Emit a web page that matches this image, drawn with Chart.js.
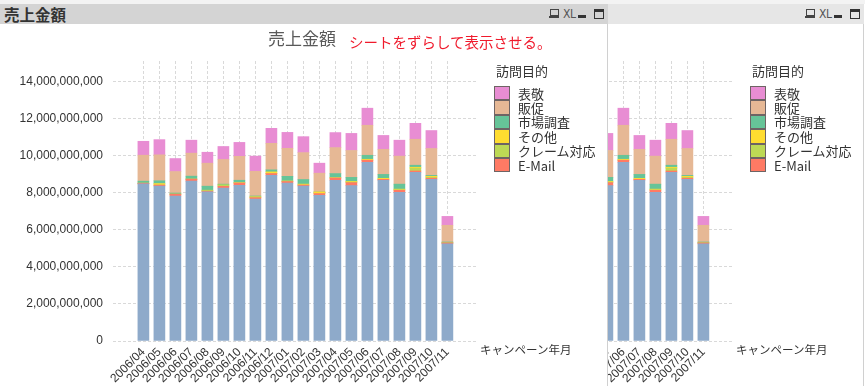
<!DOCTYPE html>
<html><head><meta charset="utf-8">
<script src="https://cdn.jsdelivr.net/npm/chart.js@4.4.0/dist/chart.umd.min.js"></script>
<style>
html,body{margin:0;padding:0;background:#fff;width:865px;height:386px;overflow:hidden;font-family:"Liberation Sans",Arial,sans-serif;}
#topstrip{position:absolute;left:0;top:0;width:865px;height:4px;background:#f3f3f3;}
.panel{position:absolute;top:4px;width:608px;height:382px;background:#fff;overflow:hidden;}
.tbar{position:absolute;left:0;top:0;width:608px;height:20px;}
.rline{position:absolute;left:607px;top:20px;width:1px;height:362px;background:#d0d0d0;}
.ptitle{position:absolute;left:4px;top:0px;font:bold 15.5px "Noto Sans CJK JP";color:#333;line-height:20px;}
.abs{position:absolute;}
.ctitle{position:absolute;left:268px;top:22px;font:17px "Noto Sans CJK JP";color:#595959;line-height:24px;white-space:nowrap;}
.red{position:absolute;left:349px;top:27px;font:14.5px "Noto Sans CJK JP";color:#f01a2c;line-height:22px;white-space:nowrap;z-index:5;}
.ltitle{position:absolute;left:496px;top:58px;font:13px "Noto Sans CJK JP";color:#333;line-height:18px;white-space:nowrap;}
.lbox{position:absolute;left:494px;width:14px;border:1px solid #6e6464;box-sizing:content-box;}
.ltext{position:absolute;left:518px;font:13px "Noto Sans CJK JP";color:#333;line-height:14px;white-space:nowrap;}
.xtitle{position:absolute;left:480px;top:337px;font:11.5px "Noto Sans CJK JP";color:#333;line-height:16px;white-space:nowrap;}
canvas{position:absolute;left:0;top:20px;}
</style>
</head><body>
<div id="topstrip"></div>
<div class="panel" id="pRight" style="left:256px;z-index:1;"></div>
<div class="panel" id="pLeft" style="left:0px;z-index:2;"></div>
<script>
// ---- data (values in units of 1,000,000,000 yen) ----
const categories = ['2006/04','2006/05','2006/06','2006/07','2006/08','2006/09','2006/10','2006/11','2006/12','2007/01','2007/02','2007/03','2007/04','2007/05','2007/06','2007/07','2007/08','2007/09','2007/10','2007/11'];
const baseVisit = [8.47,8.36,7.82,8.62,8.04,8.25,8.40,7.66,8.94,8.51,8.36,7.85,8.67,8.38,9.64,8.67,8.02,9.10,8.72,5.24];
const eMail     = [0.04,0.05,0.10,0.11,0.04,0.09,0.12,0.07,0.09,0.09,0.05,0.10,0.12,0.16,0.11,0.05,0.11,0.07,0.06,0.05];
const claim     = [0,0,0,0,0.05,0.07,0,0,0,0,0,0,0,0.04,0,0,0.03,0.15,0.05,0];
const other     = [0,0.08,0,0,0,0,0.02,0.05,0.09,0.03,0.05,0.09,0.02,0.03,0.05,0.05,0.03,0.05,0.05,0];
const research  = [0.11,0.15,0.06,0.16,0.22,0.05,0.13,0.04,0.11,0.25,0.25,0,0.22,0.215,0.215,0.215,0.27,0.11,0.05,0.05];
const promo     = [1.40,1.40,1.16,1.24,1.24,1.33,1.29,1.33,1.43,1.51,1.45,1.01,1.40,1.45,1.62,1.35,1.51,1.40,1.45,0.90];
const courtesy  = [0.75,0.82,0.70,0.70,0.59,0.70,0.75,0.82,0.81,0.86,0.86,0.54,0.81,0.92,0.92,0.75,0.86,0.86,0.97,0.48];
const UNIT = 1e9;
const yTicks = [0,2,4,6,8,10,12,14];   // tick labels in units of UNIT
const yMax = 15.1;

// stack order bottom -> top
const seriesDefs = [
  {label:'営業訪問',     data:baseVisit, color:'#8eaaca', legend:false},
  {label:'E-Mail',       data:eMail,     color:'#ff7a64', legend:true},
  {label:'クレーム対応', data:claim,     color:'#bdd955', legend:true},
  {label:'その他',       data:other,     color:'#ffdc30', legend:true},
  {label:'市場調査',     data:research,  color:'#66c498', legend:true},
  {label:'販促',         data:promo,     color:'#e6b895', legend:true},
  {label:'表敬',         data:courtesy,  color:'#e88dd3', legend:true}
];

function el(parent, cls, style, text){
  const d=document.createElement('div');
  if(cls) d.className=cls;
  if(style) d.setAttribute('style', style);
  if(text!==undefined) d.textContent=text;
  parent.appendChild(d); return d;
}

function buildPanel(p, barColor, withRed){
  const tb=el(p,'tbar','background:'+barColor+';');
  el(tb,'ptitle',null,'売上金額');
  el(tb,'abs','left:550px;top:5px;width:7px;height:5px;border:1px solid #444;');
  el(tb,'abs','left:549px;top:12px;width:10px;height:2px;background:#444;');
  el(tb,'abs','left:563px;top:2px;font:12px "Liberation Sans Narrow","DejaVu Sans Condensed",sans-serif;color:#555;line-height:16px;letter-spacing:-0.5px;','XL');
  el(tb,'abs','left:578px;top:11px;width:8px;height:3px;background:#333;');
  el(tb,'abs','left:594px;top:5px;width:8px;height:6px;border:1px solid #333;border-top:3px solid #333;');
  el(p,'rline');

  const cv=document.createElement('canvas');
  cv.width=607; cv.height=362;
  cv.style.width='607px'; cv.style.height='362px';
  p.appendChild(cv);

  el(p,'ctitle',null,'売上金額');
  if(withRed) el(p,'red',null,'シートをずらして表示させる。');
  el(p,'ltitle',null,'訪問目的');
  const legendItems = seriesDefs.filter(s=>s.legend).slice().reverse();
  legendItems.forEach((s,i)=>{
    const top = 82 + i*14.4;
    el(p,'lbox','top:'+top.toFixed(1)+'px;height:12.4px;background:'+s.color+';');
    el(p,'ltext','top:'+(top+0.5).toFixed(1)+'px;',s.label);
  });
  el(p,'xtitle',null,'キャンペーン年月');

  const gridColor='#d9d9d9';
  const noPad = s=>{ s.paddingLeft=0; s.paddingRight=0; s.paddingTop=0; s.paddingBottom=0; };
  new Chart(cv.getContext('2d'),{
    type:'bar',
    data:{
      datasets: seriesDefs.map(s=>({
        label:s.label,
        data:s.data.map((v,i)=>({x:i,y:v*UNIT})),
        backgroundColor:s.color,
        borderWidth:0,
        barThickness:11
      }))
    },
    options:{
      responsive:false,
      animation:false,
      events:[],
      layout:{padding:{left:0,right:130,top:37,bottom:0}},
      plugins:{legend:{display:false},tooltip:{enabled:false},title:{display:false}},
      scales:{
        x:{
          type:'linear',
          stacked:true,
          offset:false,
          min:-1.9, max:20.85,
          afterBuildTicks:s=>{ s.ticks = categories.map((c,i)=>({value:i})); },
          afterFit:s=>{ s.height=45; noPad(s); },
          border:{display:false,dash:[3,2]},
          grid:{color:gridColor,lineWidth:1,drawTicks:false,offset:false},
          ticks:{
            autoSkip:false,
            minRotation:45,maxRotation:45,
            padding:4,
            color:'#333',
            font:{family:'"Liberation Sans", Arial, sans-serif',size:12},
            callback:(v)=>categories[v]
          }
        },
        y:{
          stacked:true,
          min:0, max:yMax*UNIT,
          afterBuildTicks:s=>{ s.ticks = yTicks.map(v=>({value:v*UNIT})); },
          afterFit:s=>{ s.width=113; noPad(s); },
          border:{display:false,dash:[3,2]},
          grid:{color:gridColor,lineWidth:1,drawTicks:false},
          ticks:{
            padding:10,
            color:'#333',
            font:{family:'"Liberation Sans", Arial, sans-serif',size:12},
            callback:(v)=>Number(v).toLocaleString('en-US')
          }
        }
      }
    }
  });
}

buildPanel(document.getElementById('pRight'),'#e6e6e6',false);
buildPanel(document.getElementById('pLeft'),'#d4d4d4',true);
</script>
</body></html>
